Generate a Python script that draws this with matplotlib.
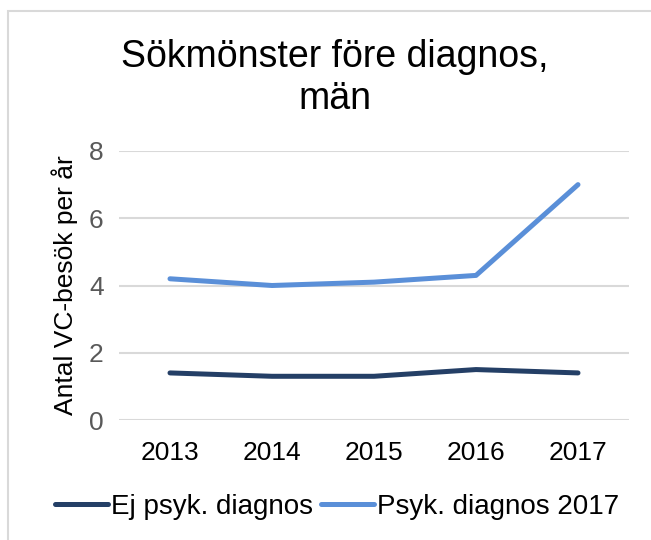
import matplotlib
matplotlib.use("Agg")
import matplotlib.pyplot as plt
from matplotlib.patches import Rectangle

plt.rcParams['font.family'] = ['Liberation Sans', 'DejaVu Sans']

years = ["2013", "2014", "2015", "2016", "2017"]
ej_psyk = [1.4, 1.3, 1.3, 1.5, 1.4]
psyk_2017 = [4.2, 4.0, 4.1, 4.3, 7.0]
series_names = ["Ej psyk. diagnos", "Psyk. diagnos 2017"]
yticks = [0, 2, 4, 6, 8]

fig = plt.figure(figsize=(6.51, 5.4), dpi=100)
# chart frame, runs off the right and bottom edge
fig.patches.append(Rectangle((8 / 651, -0.1), 1.2, 1 - 11 / 540 + 0.1,
                             transform=fig.transFigure, fill=False,
                             edgecolor="#D9D9D9", linewidth=1.5))

ax = fig.add_axes([119 / 651, 1 - 420 / 540, 510 / 651, 269 / 540])
x = range(len(years))
ax.plot(x, ej_psyk, color="#243F66", lw=3.6, solid_capstyle="round", label=series_names[0])
ax.plot(x, psyk_2017, color="#5A8FD8", lw=3.6, solid_capstyle="round", label=series_names[1])

ax.set_xlim(-0.5, len(years) - 0.5)
ax.set_ylim(0, 8)
ax.set_yticks(yticks)
ax.set_xticks(list(x))
ax.set_xticklabels(years)
ax.tick_params(axis="both", length=0, labelsize=19, colors="#595959")
ax.tick_params(axis="x", pad=15, labelcolor="black")
ax.tick_params(axis="y", pad=11)
ax.yaxis.grid(True, color="#D9D9D9", lw=1.5)
ax.set_axisbelow(True)
for s in ax.spines.values():
    s.set_visible(False)
ax.set_ylabel("Antal VC-besök per år", fontsize=19, labelpad=8)

fig.text(335 / 651, 1 - 78 / 540, "Sökmönster före diagnos,\nmän", ha="center", va="center",
         fontsize=27, linespacing=1.2)

fig.legend(loc="center", bbox_to_anchor=(337 / 651, 1 - 507 / 540), ncol=2, frameon=False,
           fontsize=20, handlelength=1.9, handletextpad=0.1, columnspacing=0.3)

fig.savefig("out.png", dpi=100)
